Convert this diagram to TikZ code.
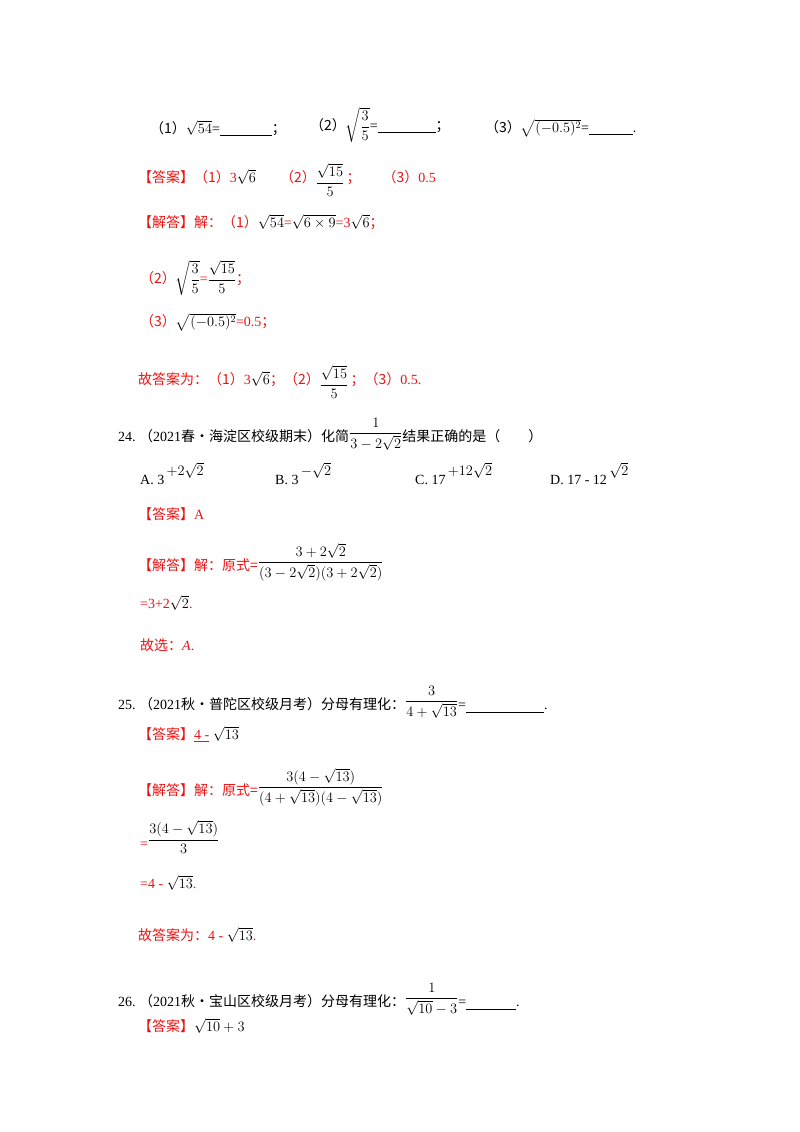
\documentclass[tikz,border=0pt]{standalone}
\usepackage{amsmath}
\usepackage{fontspec}
\setmainfont{Liberation Serif}
\newfontfamily\cjk{Noto Sans CJK SC}
\definecolor{rd}{RGB}{235,20,20}
\begin{document}
\begin{tikzpicture}[x=1pt,y=-1pt,
  t/.style={anchor=west,inner sep=0pt,font=\fontsize{14}{16}\selectfont},
  r/.style={t,text=rd}]
\useasboundingbox[fill=white] (0,0) rectangle (800,1132);
% Q23 parts
\node[t] (q1) at (150,128) {{\cjk（1）}$\sqrt{54}$=\underline{\hspace{52pt}}{\cjk ；}};
\node[t] (q2) at (310,125) {{\cjk（2）}$\sqrt{\dfrac{3}{5}}$=\underline{\hspace{58pt}}{\cjk ；}};
\node[t] (q3) at (485,128) {{\cjk（3）}$\sqrt{(-0.5)^{2}}$=\underline{\hspace{44pt}}.};
% answer
\node[r] (a1) at (138,180) {{\cjk【答案】（1）}3$\color{black}\sqrt{6}$\hspace{24pt}{\cjk（2）}\raisebox{-4pt}{$\color{black}\dfrac{\sqrt{15}}{5}$}\,{\cjk ；}\hspace{22pt}{\cjk（3）}0.5};
\node[r] (s1) at (138,222) {{\cjk【解答】解：（1）}$\color{black}\sqrt{54}$=$\color{black}\sqrt{6\times 9}$=3$\color{black}\sqrt{6}${\cjk ；}};
\node[r] (s2) at (140,278) {{\cjk（2）}$\color{black}\sqrt{\dfrac{3}{5}}$=$\color{black}\dfrac{\sqrt{15}}{5}${\cjk ；}};
\node[r] (s3) at (140,322) {{\cjk（3）}$\color{black}\sqrt{(-0.5)^{2}}$=0.5{\cjk ；}};
\node[r] (s4) at (138,382) {{\cjk 故答案为：（1）}3$\color{black}\sqrt{6}${\cjk ；（2）}\raisebox{-4pt}{$\color{black}\dfrac{\sqrt{15}}{5}$}\,{\cjk ；（3）}0.5.};
% Q24
\node[t] (q24) at (118,434) {24.\ {\cjk（}2021{\cjk 春•海淀区校级期末）化简}\raisebox{5pt}{$\dfrac{1}{3-2\sqrt{2}}$}{\cjk 结果正确的是（\qquad）}};
\node[t] (oA) at (140,474) {A.\ 3\raisebox{9pt}{$\,+2\sqrt{2}$}};
\node[t] (oB) at (275,474) {B.\ 3\raisebox{9pt}{$\,-\sqrt{2}$}};
\node[t] (oC) at (415,474) {C.\ 17\raisebox{9pt}{$\,+12\sqrt{2}$}};
\node[t] (oD) at (550,474) {D.\ 17 - 12\raisebox{9pt}{$\,\sqrt{2}$}};
\node[r] (a24) at (138,514) {{\cjk【答案】}A};
\node[r] (s24) at (138,562) {{\cjk【解答】解：原式=}\raisebox{5pt}{$\color{black}\dfrac{3+2\sqrt{2}}{(3-2\sqrt{2})(3+2\sqrt{2})}$}};
\node[r] (s24b) at (140,603) {=3+2$\color{black}\sqrt{2}$.};
\node[r] (s24c) at (140,645) {{\cjk 故选：}\textit{A}.};
% Q25
\node[t] (q25) at (118,702) {25.\ {\cjk（}2021{\cjk 秋•普陀区校级月考）分母有理化：}\raisebox{5pt}{$\dfrac{3}{4+\sqrt{13}}$}=\underline{\hspace{78pt}}.};
\node[r] (a25) at (138,734) {{\cjk【答案】}\underline{4 -} $\color{black}\sqrt{13}$};
\node[r] (s25) at (138,787) {{\cjk【解答】解：原式=}\raisebox{5pt}{$\color{black}\dfrac{3(4-\sqrt{13})}{(4+\sqrt{13})(4-\sqrt{13})}$}};
\node[r] (s25b) at (140,837) {=\raisebox{5pt}{$\color{black}\dfrac{3(4-\sqrt{13})}{3}$}};
\node[r] (s25c) at (140,883) {=4 - $\color{black}\sqrt{13}$.};
\node[r] (s25d) at (138,935) {{\cjk 故答案为：}4 - $\color{black}\sqrt{13}$.};
% Q26
\node[t] (q26) at (118,999) {26.\ {\cjk（}2021{\cjk 秋•宝山区校级月考）分母有理化：}\raisebox{5pt}{$\dfrac{1}{\sqrt{10}-3}$}=\underline{\hspace{50pt}}.};
\node[r] (a26) at (138,1026) {{\cjk【答案】}$\color{black}\sqrt{10}+3$};
\end{tikzpicture}
\end{document}
